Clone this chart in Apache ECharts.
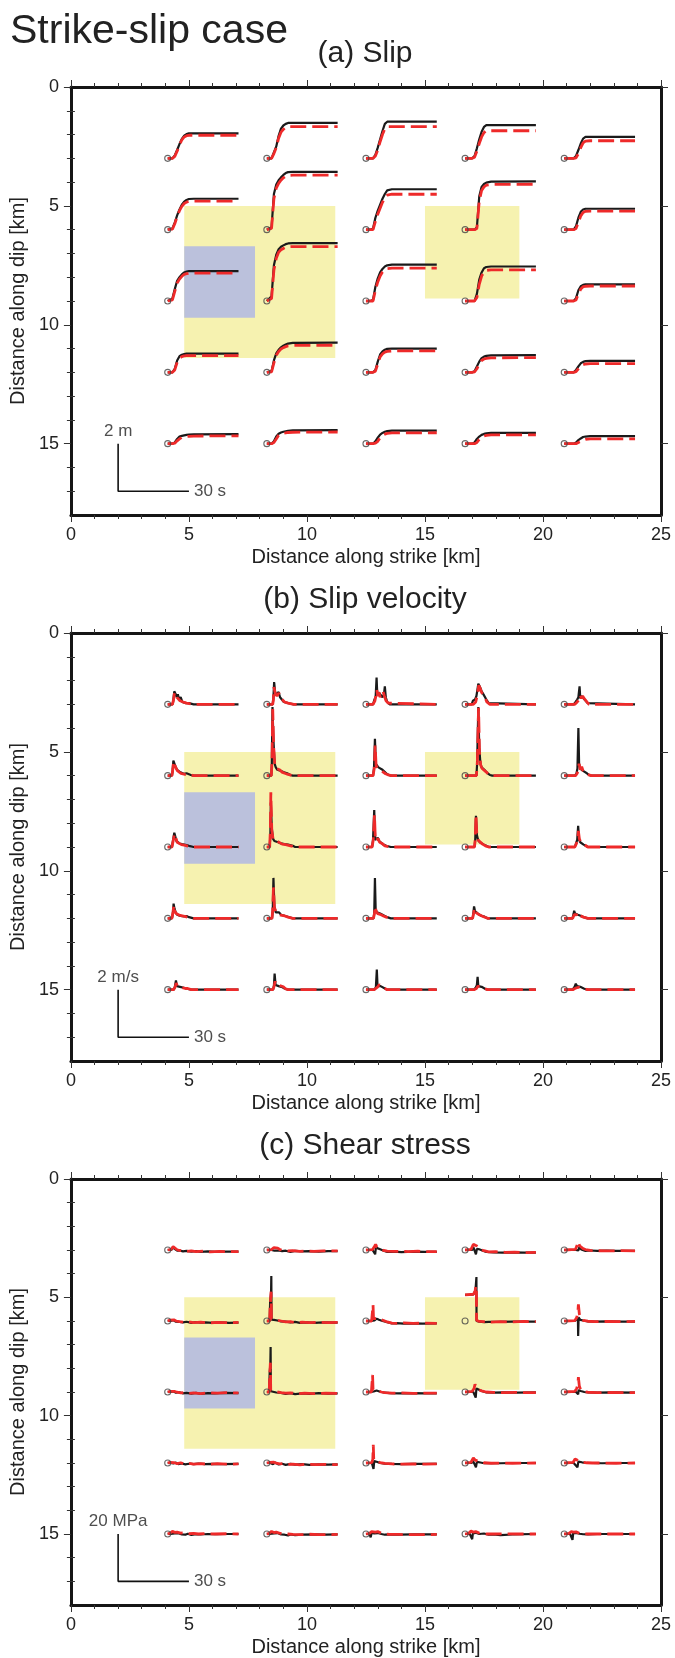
<!DOCTYPE html>
<html><head><meta charset="utf-8">
<script src="https://cdn.jsdelivr.net/npm/echarts@6/dist/echarts.min.js"></script>
<style>html,body{margin:0;padding:0;background:#fff}#c{width:675px;height:1658px}</style>
</head><body><div id="c"></div><script>
// ---------------- data ----------------
const STATION_X = [4.1, 8.3, 12.5, 16.7, 20.9];   // km along strike
const STATION_Y = [3, 6, 9, 12, 15];              // km along dip
const T_SCALE = 0.1;                               // 30 s drawn as 3 km
const AMP_SCALE = [1, 1, 0.1];                     // km per m, per m/s, per MPa
const PANEL_TITLES = ['(a) Slip', '(b) Slip velocity', '(c) Shear stress'];
const SCALE_LABELS = ['2 m', '2 m/s', '20 MPa'];
const TIME_LABEL = '30 s';
const X_TICKS = [0, 5, 10, 15, 20, 25];
const Y_MAJOR = [0, 5, 10, 15];
const Y_MINOR = [1, 2, 3, 4, 6, 7, 8, 9, 11, 12, 13, 14, 16, 17];
// rectangles: x0, y0, x1, y1, colour index
const RECTS = [[4.8, 5, 11.2, 11.4, 0], [15, 5, 19, 8.9, 0], [4.8, 6.7, 7.8, 9.7, 1]];
const RECT_COLORS = ['#f6f2b0', '#bbc1dc'];

// (a) slip [m] sampled at SLIP_T [s]; station order: row by row (dip 3..15), strike left to right
const SLIP_T = [0, 2, 3, 4, 5, 6, 7, 8, 9, 11, 30];
const SLIP_BLACK = [
  [0,0,0.12,0.35,0.6,0.82,0.95,1.02,1.05,1.05,1.05],
  [0,0,0.25,0.5,0.95,1.25,1.38,1.45,1.49,1.49,1.49],
  [0,0,0,0.15,0.45,0.8,1.15,1.45,1.54,1.54,1.54],
  [0,0,0,0.1,0.42,0.8,1.12,1.32,1.4,1.4,1.4],
  [0,0,0,0,0.1,0.35,0.62,0.83,0.9,0.9,0.9],
  [0,0.05,0.3,0.6,0.85,1.05,1.18,1.25,1.29,1.3,1.3],
  [0,0.1,1.5,1.9,2.08,2.2,2.3,2.38,2.42,2.43,2.43],
  [0,0,0.05,0.5,0.8,1.05,1.3,1.5,1.65,1.7,1.7],
  [0,0,0,0,0.1,1.4,1.8,1.92,1.98,2.02,2.03],
  [0,0,0,0,0.15,0.5,0.75,0.85,0.88,0.88,0.88],
  [0,0.1,0.5,0.85,1.0,1.12,1.2,1.24,1.26,1.26,1.26],
  [0,0.2,1.5,1.95,2.18,2.28,2.34,2.39,2.42,2.43,2.43],
  [0,0,0.05,0.6,0.95,1.2,1.35,1.45,1.5,1.53,1.53],
  [0,0,0,0,0.3,0.9,1.2,1.38,1.43,1.45,1.45],
  [0,0,0,0,0.12,0.45,0.62,0.68,0.7,0.7,0.7],
  [0,0,0.15,0.5,0.68,0.74,0.77,0.79,0.79,0.79,0.79],
  [0,0.05,0.5,0.8,0.95,1.05,1.12,1.17,1.21,1.24,1.25],
  [0,0,0,0.1,0.45,0.75,0.88,0.95,0.99,1.0,1.0],
  [0,0,0,0.05,0.25,0.45,0.6,0.66,0.69,0.71,0.72],
  [0,0,0,0,0.1,0.25,0.38,0.44,0.47,0.48,0.48],
  [0,0,0.05,0.2,0.3,0.33,0.35,0.37,0.38,0.39,0.40],
  [0,0,0.1,0.3,0.42,0.47,0.5,0.52,0.54,0.56,0.57],
  [0,0,0,0.1,0.25,0.38,0.45,0.5,0.53,0.55,0.55],
  [0,0,0,0.05,0.2,0.3,0.37,0.41,0.43,0.45,0.45],
  [0,0,0,0,0.05,0.15,0.22,0.28,0.3,0.32,0.32]
];
const SLIP_RED = [
  [0,0,0.08,0.3,0.55,0.78,0.9,0.95,0.97,0.97,0.97],
  [0,0,0.2,0.45,0.85,1.1,1.22,1.3,1.33,1.33,1.33],
  [0,0,0,0.1,0.35,0.7,1.0,1.25,1.33,1.33,1.33],
  [0,0,0,0.05,0.3,0.62,0.9,1.08,1.16,1.16,1.16],
  [0,0,0,0,0.02,0.2,0.45,0.65,0.72,0.74,0.74],
  [0,0.02,0.25,0.55,0.8,0.98,1.1,1.16,1.19,1.2,1.2],
  [0,0.05,1.3,1.75,1.95,2.08,2.18,2.25,2.28,2.29,2.29],
  [0,0,0,0.35,0.65,0.9,1.15,1.35,1.45,1.49,1.49],
  [0,0,0,0,0.05,1.2,1.65,1.8,1.87,1.9,1.91],
  [0,0,0,0,0.05,0.3,0.58,0.72,0.77,0.78,0.78],
  [0,0.05,0.4,0.75,0.92,1.04,1.12,1.15,1.17,1.17,1.17],
  [0,0.1,1.3,1.8,2.05,2.15,2.21,2.26,2.28,2.29,2.29],
  [0,0,0,0.45,0.8,1.05,1.22,1.32,1.36,1.38,1.38],
  [0,0,0,0,0.15,0.7,1.05,1.22,1.29,1.31,1.31],
  [0,0,0,0,0.04,0.3,0.5,0.6,0.62,0.63,0.63],
  [0,0,0.1,0.42,0.6,0.66,0.69,0.7,0.7,0.7,0.7],
  [0,0.02,0.4,0.72,0.88,0.98,1.04,1.08,1.11,1.13,1.14],
  [0,0,0,0.05,0.35,0.65,0.78,0.85,0.88,0.9,0.9],
  [0,0,0,0.02,0.15,0.35,0.5,0.56,0.59,0.61,0.62],
  [0,0,0,0,0.03,0.15,0.26,0.32,0.35,0.37,0.37],
  [0,0,0.02,0.12,0.2,0.26,0.28,0.3,0.31,0.32,0.33],
  [0,0,0.05,0.2,0.35,0.4,0.43,0.45,0.47,0.48,0.49],
  [0,0,0,0.02,0.1,0.25,0.35,0.4,0.43,0.45,0.46],
  [0,0,0,0,0.05,0.18,0.27,0.32,0.35,0.37,0.37],
  [0,0,0,0,0,0.05,0.1,0.15,0.18,0.2,0.2]
];

// (b) slip velocity [m/s] as [t (s), value] pairs
const VEL_BLACK = [
  [[0,0],[2,0],[2.3,0.1],[2.8,0.55],[3.3,0.45],[3.8,0.3],[4.3,0.42],[4.8,0.2],[5.5,0.3],[6.2,0.1],[7,0.15],[7.7,0.05],[9,0.05],[11,0],[30,0]],
  [[0,0],[2.5,0],[2.8,0.3],[3.1,0.94],[3.6,0.4],[4.4,0.38],[5,0.52],[5.6,0.3],[6.4,0.25],[7.2,0.1],[8,0.08],[10,0.03],[11.4,0],[30,0]],
  [[0,0],[3,0],[3.6,0.2],[4.1,0.3],[4.5,1.13],[4.8,0.4],[5.4,0.5],[6.2,0.45],[7,0.3],[7.6,0.4],[8,0.76],[8.4,0.3],[9,0.1],[10,0],[30,0]],
  [[0,0],[2.8,0],[3.3,0.15],[4.2,0.2],[4.8,0.35],[5.2,0.6],[5.6,0.87],[6.2,0.75],[7,0.55],[7.6,0.45],[8.4,0.52],[9,0.2],[10,0.05],[10.5,0],[30,0]],
  [[0,0],[4,0],[4.8,0.1],[5.5,0.2],[6,0.3],[6.5,0.76],[6.8,0.25],[7.3,0.35],[8,0.4],[8.6,0.2],[9.3,0.15],[10,0.05],[10.5,0],[30,0]],
  [[0,0],[1.8,0],[2.1,0.2],[2.4,0.63],[2.9,0.5],[3.4,0.35],[4,0.25],[4.6,0.3],[5.2,0.15],[6,0.2],[6.8,0.08],[8,0.1],[9.8,0.03],[11,0],[30,0]],
  [[0,0],[1.9,0],[2.1,0.4],[2.4,2.89],[2.8,1.5],[3.3,0.5],[3.8,0.35],[4.4,0.25],[5,0.3],[6,0.2],[7,0.15],[8.6,0.1],[10,0.03],[11,0],[30,0]],
  [[0,0],[3,0],[3.4,0.3],[3.8,1.55],[4.2,0.5],[4.7,0.42],[5.3,0.35],[6,0.3],[7,0.25],[7.6,0.2],[8.6,0.1],[9.6,0.03],[10.7,0],[30,0]],
  [[0,0],[4.8,0],[5.1,0.5],[5.6,2.89],[6,1.2],[6.5,0.5],[7,0.35],[7.8,0.3],[8.6,0.2],[9.6,0.1],[10.5,0.03],[11.5,0],[30,0]],
  [[0,0],[4.6,0],[5.2,0.1],[5.6,0.3],[6,2.0],[6.3,0.5],[6.8,0.3],[7.4,0.35],[8,0.2],[8.8,0.15],[9.6,0.1],[10.5,0.03],[11.5,0],[30,0]],
  [[0,0],[1.8,0],[2.3,0.3],[2.8,0.6],[3.2,0.45],[3.7,0.25],[4.2,0.18],[5,0.15],[6,0.12],[7,0.1],[8,0.08],[9,0.05],[11,0],[30,0]],
  [[0,0],[1.2,0],[1.5,0.5],[1.7,1.87],[2.1,0.8],[2.6,0.35],[3.2,0.25],[4,0.3],[4.8,0.2],[6,0.15],[7.5,0.12],[9,0.1],[11,0.05],[12,0],[30,0]],
  [[0,0],[2.6,0],[3,0.3],[3.5,1.55],[3.9,0.3],[4.4,0.25],[5,0.39],[5.6,0.25],[6.4,0.2],[7.4,0.1],[8.6,0.05],[10.5,0],[30,0]],
  [[0,0],[4,0],[4.3,0.3],[4.6,1.31],[5,0.5],[5.5,0.3],[6.2,0.2],[7,0.15],[8,0.1],[9,0.05],[10,0],[30,0]],
  [[0,0],[4.5,0],[5,0.15],[5.5,0.3],[5.9,0.89],[6.3,0.3],[6.8,0.2],[7.5,0.25],[8.2,0.1],[9,0.08],[10,0],[30,0]],
  [[0,0],[1.8,0],[2.2,0.2],[2.5,0.62],[2.9,0.4],[3.4,0.25],[4,0.15],[4.6,0.2],[5.4,0.1],[6.2,0.15],[7,0.08],[8,0.1],[9,0.05],[11,0],[30,0]],
  [[0,0],[2.2,0],[2.5,0.3],[2.8,1.70],[3.2,0.5],[3.8,0.25],[4.5,0.2],[5.2,0.25],[6,0.15],[7.2,0.12],[8.5,0.08],[10,0.03],[11,0],[30,0]],
  [[0,0],[3.2,0],[3.5,0.2],[3.8,1.70],[4.1,0.4],[4.6,0.25],[5.2,0.23],[6,0.2],[7,0.15],[8,0.1],[9,0.05],[10.5,0],[30,0]],
  [[0,0],[3.2,0],[3.5,0.2],[3.8,0.5],[4.2,0.3],[4.8,0.35],[5.4,0.2],[6.2,0.23],[7,0.1],[8,0.08],[9.5,0],[30,0]],
  [[0,0],[3.5,0],[4,0.2],[4.2,0.32],[4.6,0.2],[5.2,0.28],[5.8,0.15],[6.5,0.22],[7.2,0.1],[8.2,0.05],[10,0],[30,0]],
  [[0,0],[2.5,0],[3,0.1],[3.5,0.39],[3.9,0.15],[4.5,0.2],[5.2,0.12],[6,0.15],[6.8,0.08],[7.6,0.1],[8.5,0.03],[10,0],[30,0]],
  [[0,0],[2.6,0],[3,0.15],[3.3,0.68],[3.7,0.2],[4.3,0.2],[5,0.15],[5.8,0.2],[6.6,0.1],[7.5,0.05],[9,0],[30,0]],
  [[0,0],[3.5,0],[4.2,0.1],[4.6,0.85],[4.9,0.15],[5.5,0.2],[6.2,0.15],[7,0.1],[8,0.05],[9,0],[30,0]],
  [[0,0],[3.8,0],[4.6,0.1],[5,0.2],[5.3,0.54],[5.6,0.15],[6.2,0.1],[7,0.12],[7.8,0.05],[8.6,0.03],[9.5,0],[30,0]],
  [[0,0],[3.5,0],[4.3,0.1],[4.9,0.25],[5.4,0.15],[6,0.2],[6.8,0.12],[7.6,0.08],[8.5,0.04],[10,0],[30,0]]
];
const VEL_RED = [
  [[0,0],[2,0],[2.5,0.2],[2.9,0.5],[3.4,0.42],[4,0.28],[4.6,0.36],[5.2,0.15],[6,0.22],[7,0.08],[8,0.05],[11,0],[30,0]],
  [[0,0],[2.5,0],[2.8,0.2],[3.0,0.73],[3.6,0.45],[4.3,0.35],[5.1,0.48],[5.8,0.28],[6.6,0.2],[7.5,0.1],[9,0.05],[11.4,0],[30,0]],
  [[0,0],[3,0],[3.8,0.15],[4.6,0.6],[5,0.35],[5.5,0.5],[6,0.3],[6.6,0.45],[7.2,0.55],[7.8,0.35],[8.5,0.15],[9.5,0.05],[10,0],[30,0]],
  [[0,0],[3.5,0],[4.5,0.1],[5.2,0.4],[5.8,0.8],[6.3,0.7],[7,0.5],[7.8,0.42],[8.4,0.3],[9.2,0.1],[10.5,0],[30,0]],
  [[0,0],[4.5,0],[5.5,0.1],[6.3,0.2],[6.8,0.38],[7.3,0.25],[7.8,0.35],[8.4,0.25],[9,0.3],[9.6,0.1],[10.5,0],[30,0]],
  [[0,0],[1.8,0],[2.2,0.3],[2.5,0.6],[3,0.45],[3.6,0.3],[4.2,0.2],[4.8,0.25],[5.6,0.1],[6.4,0.15],[7.4,0.05],[9,0.05],[11,0],[30,0]],
  [[0,0],[1.9,0],[2.2,0.6],[2.5,2.8],[2.9,1.2],[3.4,0.4],[4,0.3],[4.8,0.22],[5.4,0.25],[6.4,0.15],[7.6,0.1],[9,0.05],[11,0],[30,0]],
  [[0,0],[3,0],[3.5,0.3],[3.9,1.27],[4.3,0.4],[4.9,0.45],[5.5,0.3],[6.3,0.25],[7.3,0.15],[8.3,0.08],[9.5,0.03],[10.7,0],[30,0]],
  [[0,0],[4.8,0],[5.2,0.6],[5.7,2.85],[6.1,1.0],[6.6,0.45],[7.2,0.3],[8,0.25],[9,0.15],[10,0.05],[11.5,0],[30,0]],
  [[0,0],[4.8,0],[5.5,0.1],[6,0.3],[6.3,0.5],[6.8,0.25],[7.4,0.38],[8,0.2],[8.8,0.15],[9.8,0.05],[11.5,0],[30,0]],
  [[0,0],[1.8,0],[2.4,0.3],[2.9,0.55],[3.4,0.4],[4,0.2],[4.8,0.15],[5.8,0.1],[7,0.08],[8.5,0.04],[11,0],[30,0]],
  [[0,0],[1.2,0],[1.5,0.7],[1.7,2.3],[2.1,0.7],[2.7,0.3],[3.4,0.22],[4.2,0.25],[5,0.18],[6.5,0.12],[8,0.1],[10,0.05],[12,0],[30,0]],
  [[0,0],[2.6,0],[3.1,0.3],[3.6,1.35],[4,0.25],[4.6,0.3],[5.2,0.35],[5.8,0.2],[6.8,0.15],[8,0.05],[10.5,0],[30,0]],
  [[0,0],[4,0],[4.3,0.35],[4.6,1.35],[5,0.45],[5.6,0.28],[6.4,0.25],[7.4,0.12],[8.6,0.05],[10,0],[30,0]],
  [[0,0],[4.5,0],[5.2,0.15],[5.7,0.3],[6,0.68],[6.4,0.35],[7,0.2],[7.7,0.15],[8.5,0.1],[10,0],[30,0]],
  [[0,0],[1.8,0],[2.3,0.3],[2.6,0.55],[3,0.3],[3.6,0.2],[4.4,0.22],[5.2,0.12],[6,0.1],[7.2,0.08],[9,0.03],[11,0],[30,0]],
  [[0,0],[2.2,0],[2.5,0.35],[2.8,1.3],[3.2,0.45],[3.8,0.3],[4.6,0.18],[5.4,0.22],[6.4,0.12],[7.6,0.1],[9,0.05],[11,0],[30,0]],
  [[0,0],[3.2,0],[3.6,0.2],[3.9,0.5],[4.3,0.3],[5,0.2],[5.6,0.25],[6.4,0.15],[7.4,0.1],[8.6,0.05],[10.5,0],[30,0]],
  [[0,0],[3.2,0],[3.6,0.2],[4,0.43],[4.5,0.25],[5.2,0.3],[6,0.15],[6.8,0.2],[7.6,0.08],[9.5,0],[30,0]],
  [[0,0],[3.6,0],[4.2,0.15],[4.6,0.22],[5.2,0.15],[5.8,0.25],[6.5,0.12],[7.3,0.15],[8.2,0.05],[10,0],[30,0]],
  [[0,0],[2.5,0],[3.1,0.1],[3.6,0.28],[4.2,0.12],[5,0.18],[5.8,0.1],[6.6,0.14],[7.5,0.05],[8.5,0.05],[10,0],[30,0]],
  [[0,0],[2.6,0],[3.1,0.15],[3.5,0.35],[4,0.2],[4.6,0.15],[5.4,0.18],[6.2,0.1],[7,0.12],[8,0.03],[9,0],[30,0]],
  [[0,0],[3.5,0],[4.3,0.05],[5,0.12],[5.6,0.21],[6.3,0.18],[7,0.1],[7.8,0.05],[9,0],[30,0]],
  [[0,0],[3.8,0],[4.8,0.05],[5.4,0.14],[6,0.08],[6.6,0.14],[7.3,0.1],[8.2,0.05],[9.5,0],[30,0]],
  [[0,0],[3.6,0],[4.5,0.05],[5.2,0.12],[6,0.1],[6.8,0.12],[7.6,0.05],[8.5,0.03],[10,0],[30,0]]
];

// (c) shear stress change [MPa] as [t (s), value] pairs
const STRESS_BLACK = [
  [[0,0],[1.5,0],[2.2,1.0],[3,0.5],[4,-0.3],[5,-0.2],[6.5,-0.6],[8,-0.4],[10,-0.7],[12,-0.5],[14,-0.8],[17,-0.6],[20,-0.8],[24,-0.7],[30,-0.7]],
  [[0,0],[2,0],[2.7,0.5],[3.2,-0.3],[4,0.4],[5,-0.2],[6.5,-0.5],[8,-0.3],[10,-0.8],[12,-0.4],[15,-0.6],[18,-0.5],[22,-0.7],[26,-0.5],[30,-0.5]],
  [[0,0],[2.8,0],[3.5,0.8],[3.9,-1.8],[4.2,1.0],[5,0.5],[6,0.3],[7.5,-0.3],[9,-0.8],[12,-0.7],[15,-0.9],[20,-0.7],[25,-0.8],[30,-0.8]],
  [[0,0],[3,0],[3.5,1.2],[4.6,-1.8],[5,0.5],[6,0.3],[7.5,-0.3],[9,-0.8],[12,-1.0],[16,-1.1],[20,-1.0],[25,-1.1],[30,-1.1]],
  [[0,0],[5,0],[5.6,0.5],[6,-0.2],[6.5,1.5],[7.2,0.2],[8,0.5],[9,-0.4],[11,-0.2],[14,-0.4],[18,-0.3],[22,-0.4],[30,-0.4]],
  [[0,0],[1.2,0],[1.6,0.7],[2.5,0.3],[3.5,-0.3],[5,-0.4],[6.5,-0.6],[8,-0.3],[10,-0.8],[12,-0.5],[14,-0.7],[16,-0.6],[19,-0.8],[22,-0.6],[26,-0.8],[30,-0.7]],
  [[0,0],[1.2,0],[1.4,8],[1.8,12],[1.9,19],[2.0,0.6],[3,0.5],[4.5,0.2],[6,-0.2],[8,-0.3],[10,-0.6],[12,-0.4],[14,-0.8],[17,-0.6],[20,-0.8],[24,-0.6],[30,-0.7]],
  [[0,0],[2.4,0],[3,0.5],[3.5,0.2],[4.5,1.0],[5.5,0.5],[7,0.0],[9,-0.5],[11,-1.0],[13,-0.9],[16,-1.1],[20,-1.0],[24,-1.1],[30,-1.0]],
  [[0,11],[3.5,11.2],[4.4,13],[4.8,18.6],[4.85,0],[6,-0.3],[8,-0.5],[10,-0.4],[14,-0.4],[20,-0.3],[25,-0.3],[30,-0.3]],
  [[0,0],[4.5,0],[5.3,0.5],[5.8,1.0],[5.9,-6.3],[6.1,1.5],[6.8,0.5],[8,0.2],[10,-0.2],[13,-0.3],[18,-0.2],[24,-0.3],[30,-0.3]],
  [[0,0],[1.2,0],[1.6,0.5],[2.5,0.2],[3.5,-0.3],[5,-0.1],[6.5,-0.6],[8,-0.4],[10,-0.7],[12,-0.4],[14,-0.8],[17,-0.5],[20,-0.6],[24,-0.4],[30,-0.5]],
  [[0,0],[1.0,0],[1.2,8],[1.5,12],[1.6,19],[1.7,0.3],[2.5,0.5],[4,-0.2],[6,-0.4],[8,-0.8],[10,-0.5],[12,-0.9],[15,-0.6],[18,-0.8],[22,-0.5],[26,-0.7],[30,-0.6]],
  [[0,0],[2.2,0],[2.8,0.6],[3.3,0.2],[4.5,0.6],[6,0.1],[8,-0.3],[10,-0.5],[14,-0.6],[20,-0.5],[25,-0.6],[30,-0.6]],
  [[0,0],[3.5,0],[4.0,0.6],[4.5,-2.4],[4.8,1.5],[5.5,0.8],[7,0.4],[9,-0.2],[12,-0.3],[16,-0.2],[22,-0.3],[30,-0.2]],
  [[0,0],[5,0],[5.5,0.5],[5.9,-1.0],[6.1,0.8],[7,0.4],[8.5,0.0],[10,-0.2],[14,-0.3],[20,-0.2],[30,-0.3]],
  [[0,0],[1.2,0],[1.6,0.5],[2.4,-0.2],[3.5,0.2],[4.5,-0.5],[6,-0.2],[7.5,-0.6],[9,-0.3],[11,-0.5],[13,-0.3],[16,-0.5],[19,-0.4],[23,-0.5],[30,-0.4]],
  [[0,0],[1.5,0],[2,0.5],[2.6,-0.5],[3.5,0.2],[5,-0.6],[6.5,-0.3],[8,-0.8],[10,-0.4],[12,-0.7],[15,-0.5],[18,-0.8],[22,-0.6],[26,-0.7],[30,-0.6]],
  [[0,0],[2.5,0],[2.9,0.8],[3.2,-2.5],[3.5,0.8],[4.5,0.5],[6,0.0],[8,-0.3],[11,-0.4],[15,-0.5],[20,-0.4],[30,-0.4]],
  [[0,0],[2.8,0],[3.3,1.0],[4.6,-1.8],[5,0.5],[6.5,0.2],[8,-0.1],[11,0.0],[15,-0.1],[20,0.0],[30,0.0]],
  [[0,0],[4,0],[4.7,0.8],[5.6,-1.8],[6,0.6],[7.5,0.3],[9.5,0.0],[12,0.0],[16,-0.1],[22,0.0],[30,0.0]],
  [[0,0],[1.2,0],[2,0.5],[3,0.2],[4.5,0.3],[6,-0.2],[7.5,-0.3],[8.5,0.1],[10,-0.4],[12,-0.1],[14,-0.2],[17,0.0],[21,-0.1],[25,0.0],[30,0.0]],
  [[0,0],[1.2,0],[2,0.6],[3,0.2],[4.5,0.4],[6,-0.2],[7.5,-0.3],[9,-0.6],[10,-0.2],[12,-0.5],[15,-0.3],[20,-0.2],[25,-0.3],[30,-0.2]],
  [[0,0],[1.5,0],[2,-1.4],[2.4,0.5],[3.5,0.2],[5,0.4],[6.5,0.0],[8,-0.3],[10,-0.2],[14,-0.3],[20,-0.2],[30,-0.2]],
  [[0,0],[2,0],[2.6,0.5],[3.0,-2.2],[3.3,0.3],[4.5,0.5],[6,0.0],[8,0.2],[10,-0.3],[12,-0.2],[15,-0.5],[20,-0.2],[30,0.0]],
  [[0,0],[2.5,0],[3.1,0.4],[3.5,-2.5],[3.8,0.3],[5,0.5],[6.5,0.1],[8,-0.1],[10,-0.2],[14,0.0],[20,0.0],[30,0.0]]
];
const STRESS_RED = [
  [[0,0],[1.5,0.3],[2.3,1.4],[3,0.8],[4,0.1],[5,-0.2],[6.5,-0.3],[8,-0.6],[10,-0.4],[12,-0.7],[15,-0.5],[18,-0.8],[22,-0.6],[26,-0.7],[30,-0.7]],
  [[0,0],[2,0.2],[3,1.0],[3.8,0.5],[4.6,0.8],[5.5,0.2],[7,-0.2],[9,-0.4],[11,-0.3],[14,-0.6],[17,-0.4],[20,-0.6],[24,-0.4],[30,-0.4]],
  [[0,0],[2.8,0.2],[3.6,1.5],[4.1,2.4],[4.6,1.2],[5.4,1.4],[6.3,0.3],[7.5,-0.2],[9,-0.5],[12,-0.6],[15,-0.5],[18,-0.7],[22,-0.5],[26,-0.7],[30,-0.7]],
  [[0,0],[2.5,0.3],[3.5,2.4],[4.2,1.6],[4.8,1.8],[5.6,0.8],[6.5,0.2],[8,-0.3],[10,-0.8],[13,-0.7],[17,-1.0],[21,-0.9],[25,-1.1],[30,-1.0]],
  [[0,0],[4.8,0.3],[5.6,1.0],[6,3.5],[6.5,1.8],[7.2,2.0],[8,0.6],[9,0.2],[11,-0.2],[14,-0.3],[18,-0.4],[24,-0.3],[30,-0.4]],
  [[0,0],[1,0.4],[1.7,0.8],[2.6,0.5],[3.6,0.0],[5,-0.3],[7,-0.5],[9,-0.4],[11,-0.7],[14,-0.5],[17,-0.8],[21,-0.6],[25,-0.7],[30,-0.6]],
  [[0,0],[1.2,0],[1.4,6],[1.8,12.4],[1.95,1],[3,0.6],[4.5,0.3],[6,0.0],[8,-0.4],[10,-0.3],[12,-0.7],[15,-0.5],[18,-0.7],[22,-0.5],[26,-0.7],[30,-0.6]],
  [[0,0],[2.4,0],[2.8,0.5],[3.0,6.8],[3.2,1.0],[4,0.8],[5,1.1],[6,0.7],[7.5,0.2],[9,-0.4],[11,-0.9],[13,-1.0],[16,-0.8],[20,-1.0],[25,-0.9],[30,-1.0]],
  [[0,11],[3.5,11.3],[4.2,12.5],[4.6,14.8],[4.8,13],[4.85,0.3],[6,-0.2],[8,-0.3],[11,-0.5],[15,-0.3],[20,-0.4],[25,-0.2],[30,-0.3]],
  [[0,0],[4.5,0.2],[5.3,1.5],[5.8,4],[6.0,7.0],[6.4,3],[7,1.5],[8,0.3],[10,-0.1],[13,-0.3],[18,-0.2],[24,-0.3],[30,-0.2]],
  [[0,0],[1,0.3],[1.8,0.7],[2.8,0.3],[4,-0.1],[5.5,-0.4],[7,-0.2],[9,-0.6],[11,-0.4],[14,-0.7],[17,-0.3],[21,-0.5],[25,-0.3],[30,-0.4]],
  [[0,0],[1.0,0],[1.2,6],[1.5,12.4],[1.65,0.8],[2.5,0.6],[4,0.2],[6,-0.3],[8,-0.5],[10,-0.4],[13,-0.7],[16,-0.5],[20,-0.7],[25,-0.5],[30,-0.6]],
  [[0,0],[2.3,0],[2.7,0.8],[2.8,7.2],[3.0,1.0],[4,0.7],[5,0.5],[6.5,0.0],[8,-0.3],[11,-0.5],[15,-0.4],[20,-0.6],[25,-0.5],[30,-0.5]],
  [[0,0],[3.0,0.3],[3.8,1.5],[4.2,3.2],[4.8,2.0],[5.5,1.0],[7,0.5],[9,0.0],[12,-0.2],[16,-0.3],[22,-0.2],[30,-0.3]],
  [[0,0],[4.5,0.3],[5.3,1.5],[5.8,3.5],[6.0,6.3],[6.4,2.5],[7,0.8],[8.5,0.2],[10,-0.1],[14,-0.3],[20,-0.2],[30,-0.3]],
  [[0,0],[1,0.3],[1.8,0.7],[2.6,0.2],[4,-0.3],[5.5,0.1],[7,-0.4],[9,-0.2],[11,-0.5],[14,-0.3],[17,-0.5],[21,-0.3],[25,-0.5],[30,-0.4]],
  [[0,0],[1.3,0.3],[1.9,0.9],[2.8,0.4],[4,-0.1],[5.5,-0.4],[7,-0.2],[9,-0.6],[11,-0.5],[14,-0.8],[17,-0.5],[21,-0.7],[25,-0.6],[30,-0.7]],
  [[0,0],[2.5,0.2],[2.9,1.5],[3.1,7.7],[3.3,1.5],[4.5,0.8],[6,0.2],[8,-0.2],[11,-0.4],[15,-0.5],[20,-0.4],[25,-0.5],[30,-0.4]],
  [[0,0],[2.5,0.3],[3.5,2.1],[4.3,1.2],[5,1.4],[6.5,0.5],[8,0.1],[11,-0.1],[15,0.0],[20,-0.1],[30,0.0]],
  [[0,0],[3.8,0.3],[4.6,1.7],[5.4,1.2],[6,1.0],[7.5,0.4],[9.5,0.1],[12,0.0],[16,0.0],[22,-0.1],[30,0.0]],
  [[0,0],[1,0.4],[2,1.1],[3,0.7],[4,0.8],[5.5,0.4],[7,0.5],[9,0.2],[11,0.3],[13,0.0],[16,0.2],[20,0.0],[25,0.1],[30,0.0]],
  [[0,0],[1,0.3],[2,1.1],[3,0.6],[4,0.8],[5.5,0.3],[7,0.2],[9,0.0],[11,-0.2],[14,-0.3],[18,-0.1],[22,-0.3],[30,-0.2]],
  [[0,0],[1.5,0.3],[2.4,1.0],[3.2,1.4],[4,0.8],[5,1.0],[6.5,0.4],[8,0.0],[10,-0.2],[14,-0.2],[20,-0.3],[30,-0.2]],
  [[0,0],[1.5,0.3],[2.5,1.2],[3.5,0.8],[4.5,1.0],[6,0.4],[7.5,0.3],[9,0.0],[12,0.0],[16,0.1],[22,0.0],[30,0.0]],
  [[0,0],[2,0.3],[3,1.0],[4,0.8],[5,0.9],[6.5,0.3],[8,0.1],[10,0.0],[14,0.0],[20,0.0],[30,0.0]]
];

// ---------------- chart ----------------
const FONT = '"Liberation Sans", Arial, Helvetica, sans-serif';
const GRID_TOP = [87, 633, 1179];
const GRID_LEFT = 69, GRID_W = 592, GRID_H = 428;

const slipPairs = arr => arr.map(v => v.map((y, k) => [SLIP_T[k], y]));
const PANEL_BLACK = [slipPairs(SLIP_BLACK), VEL_BLACK, STRESS_BLACK];
const PANEL_RED = [slipPairs(SLIP_RED), VEL_RED, STRESS_RED];

function place(i, pairs, amp) {
  const sx = STATION_X[i % 5], sy = STATION_Y[Math.floor(i / 5)];
  return pairs.map(p => [sx + p[0] * T_SCALE, sy - p[1] * amp]);
}

const grids = [], xAxes = [], yAxes = [], series = [], graphics = [];
const tickStyle = {color: '#333', width: 1};
const frameStyle = {color: '#151515', width: 3};
const labelStyle = {fontSize: 18, color: '#222', fontFamily: FONT};
const nameStyle = {fontSize: 20, color: '#222', fontFamily: FONT};

for (let g = 0; g < 3; g++) {
  grids.push({left: GRID_LEFT, top: GRID_TOP[g], width: GRID_W, height: GRID_H});
  const xBase = {gridIndex: g, type: 'value', min: 0, max: 25, interval: 5,
    splitLine: {show: false},
    axisLine: {show: true, onZero: false, lineStyle: frameStyle},
    axisTick: {show: true, length: 7, lineStyle: tickStyle},
    minorTick: {show: true, splitNumber: 5, length: 4, lineStyle: tickStyle}};
  xAxes.push(Object.assign({}, xBase, {position: 'bottom',
    name: 'Distance along strike [km]', nameLocation: 'middle', nameGap: 32, nameTextStyle: nameStyle,
    axisLabel: Object.assign({margin: 11, customValues: X_TICKS}, labelStyle)}));
  xAxes.push(Object.assign({}, xBase, {position: 'top', axisLabel: {show: false}}));
  const yBase = {gridIndex: g, type: 'value', min: 0, max: 18, inverse: true, splitLine: {show: false}};
  ['left', 'right'].forEach(side => {
    const major = Object.assign({}, yBase, {position: side,
      axisLine: {show: true, onZero: false, lineStyle: frameStyle},
      axisTick: {show: true, length: 7, customValues: Y_MAJOR, lineStyle: tickStyle},
      axisLabel: side === 'left' ? Object.assign({margin: 12, customValues: Y_MAJOR}, labelStyle) : {show: false}});
    if (side === 'left') Object.assign(major, {name: 'Distance along dip [km]', nameLocation: 'middle', nameGap: 33, nameTextStyle: nameStyle});
    yAxes.push(major);
    yAxes.push(Object.assign({}, yBase, {position: side,
      axisLine: {show: false},
      axisTick: {show: true, length: 4, customValues: Y_MINOR, lineStyle: tickStyle},
      axisLabel: {show: false}}));
  });
  const xi = 2 * g, yi = 4 * g;

  series.push({type: 'custom', xAxisIndex: xi, yAxisIndex: yi, z: 1, silent: true, data: RECTS,
    renderItem: (params, api) => {
      const p0 = api.coord([api.value(0), api.value(1)]);
      const p1 = api.coord([api.value(2), api.value(3)]);
      return {type: 'rect',
        shape: {x: Math.min(p0[0], p1[0]), y: Math.min(p0[1], p1[1]),
                width: Math.abs(p1[0] - p0[0]), height: Math.abs(p1[1] - p0[1])},
        style: {fill: RECT_COLORS[api.value(4)]}};
    }});

  PANEL_BLACK[g].forEach((tr, i) => series.push({type: 'line', xAxisIndex: xi, yAxisIndex: yi, z: 3,
    data: place(i, tr, AMP_SCALE[g]), showSymbol: false, symbol: 'none', silent: true,
    lineStyle: {color: '#1a1a1a', width: 2.2}}));
  PANEL_RED[g].forEach((tr, i) => series.push({type: 'line', xAxisIndex: xi, yAxisIndex: yi, z: 4,
    data: place(i, tr, AMP_SCALE[g]), showSymbol: false, symbol: 'none', silent: true,
    lineStyle: {color: '#ee2a2a', width: 2.8, type: [16, 6]}}));

  const stations = [];
  STATION_Y.forEach(y => STATION_X.forEach(x => stations.push([x, y])));
  series.push({type: 'scatter', xAxisIndex: xi, yAxisIndex: yi, z: 5, silent: true, data: stations,
    symbol: 'circle', symbolSize: 6,
    itemStyle: {color: 'rgba(255,255,255,0)', borderColor: '#444', borderWidth: 1.1}});

  // scale bar: 2 units vertical, 30 s horizontal
  series.push({type: 'line', xAxisIndex: xi, yAxisIndex: yi, z: 3, silent: true, symbol: 'none',
    data: [[2, 15], [2, 17], [2 + 30 * T_SCALE, 17]], lineStyle: {color: '#111', width: 1.6}});
  series.push({type: 'scatter', xAxisIndex: xi, yAxisIndex: yi, z: 6, silent: true, symbolSize: 0,
    data: [{value: [2, 15], label: {show: true, position: 'top', distance: 4, formatter: SCALE_LABELS[g]}},
           {value: [2 + 30 * T_SCALE, 17], label: {show: true, position: 'right', distance: 5, formatter: TIME_LABEL}}],
    label: {fontSize: 17, color: '#222', fontFamily: FONT}});

  graphics.push({type: 'text', x: GRID_LEFT + GRID_W / 2, y: GRID_TOP[g] - 33,
    style: {text: PANEL_TITLES[g], font: '30px ' + FONT, fill: '#222', textAlign: 'center', textVerticalAlign: 'middle'}});
}
graphics.push({type: 'text', x: 10, y: 32,
  style: {text: 'Strike-slip case', font: '41px ' + FONT, fill: '#222', textAlign: 'left', textVerticalAlign: 'middle'}});

const chart = echarts.init(document.getElementById('c'), null, {renderer: 'canvas'});
chart.setOption({animation: false, backgroundColor: '#fff', grid: grids, xAxis: xAxes, yAxis: yAxes,
  series: series, graphic: graphics});
</script></body></html>
